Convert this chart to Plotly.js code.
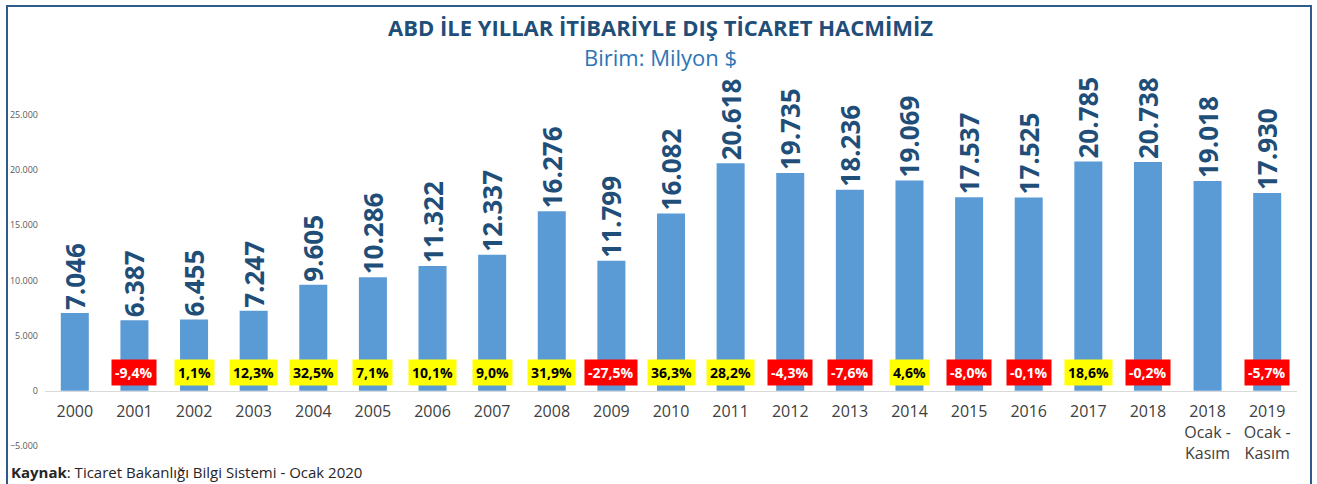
<!DOCTYPE html>
<html>
<head>
<meta charset="utf-8">
<script src="https://cdn.plot.ly/plotly-3.0.1.min.js"></script>
<style>
  html, body { margin: 0; padding: 0; background: #fff; }
  #wrap { position: relative; width: 1317px; height: 484px; overflow: hidden; }
  #chart { width: 1317px; height: 484px; }
  #frame { position: absolute; left: 6px; top: 5px; width: 1302px; height: 520px;
           border: 2px solid #2F5B8A; pointer-events: none; }
</style>
</head>
<body>
<div id="wrap">
  <div id="chart"></div>
  <div id="frame"></div>
</div>
<script>
// ---- data ----
const categories = ["2000","2001","2002","2003","2004","2005","2006","2007","2008","2009",
  "2010","2011","2012","2013","2014","2015","2016","2017","2018",
  "2018<br>Ocak -<br>Kasım","2019<br>Ocak -<br>Kasım"];
const tradeVolume = [7046, 6387, 6455, 7247, 9605, 10286, 11322, 12337, 16276, 11799,
  16082, 20618, 19735, 18236, 19069, 17537, 17525, 20785, 20738, 19018, 17930];
const changePct = [null, -9.4, 1.1, 12.3, 32.5, 7.1, 10.1, 9.0, 31.9, -27.5,
  36.3, 28.2, -4.3, -7.6, 4.6, -8.0, -0.1, 18.6, -0.2, null, -5.7];
const yTickValues = [-5000, 0, 5000, 10000, 15000, 20000, 25000];

// ---- layout helpers ----
const W = 1317, H = 484;
const M = { l: 45, r: 20, t: 115, b: 38 };
const yRange = [-5000, 25000];
const pw = W - M.l - M.r, ph = H - M.t - M.b;
const px2x = px => (px - M.l) / pw;
const py2y = py => (H - M.b - py) / ph;
const zeroPos = (0 - yRange[0]) / (yRange[1] - yRange[0]);

const FONT = "Open Sans, Noto Sans, sans-serif";

const bars = {
  type: "bar",
  x: categories,
  y: tradeVolume,
  marker: { color: "#5B9BD5" },
  texttemplate: "%{y:,d}",
  textposition: "outside",
  textangle: -90,
  constraintext: "none",
  cliponaxis: false,
  textfont: { family: FONT, size: 26, color: "#1F4E79", weight: "bold" },
  hoverinfo: "x+y"
};

const annotations = [];
changePct.forEach((v, i) => {
  if (v === null) return;
  const neg = v < 0;
  annotations.push({
    x: i, xref: "x",
    y: py2y(386), yref: "paper",
    yanchor: "bottom", xanchor: "center",
    text: v.toFixed(1).replace(".", ",") + "%",
    showarrow: false,
    bgcolor: neg ? "#FF0000" : "#FFFF00",
    borderpad: 3,
    font: { family: FONT, size: 14, weight: "bold", color: neg ? "#FFFFFF" : "#000000" }
  });
});

annotations.push({
  xref: "paper", yref: "paper", x: px2x(660), y: py2y(27),
  text: "ABD İLE YILLAR İTİBARİYLE DIŞ TİCARET HACMİMİZ",
  showarrow: false, xanchor: "center", yanchor: "middle",
  font: { family: FONT, size: 22, weight: "bold", color: "#1F4E79" }
});
annotations.push({
  xref: "paper", yref: "paper", x: px2x(660), y: py2y(57),
  text: "Birim: Milyon $",
  showarrow: false, xanchor: "center", yanchor: "middle",
  font: { family: FONT, size: 22, color: "#2E75B6" }
});
annotations.push({
  xref: "paper", yref: "paper", x: px2x(9), y: py2y(472),
  text: "<b>Kaynak</b>: Ticaret Bakanlığı Bilgi Sistemi - Ocak 2020",
  showarrow: false, xanchor: "left", yanchor: "middle",
  font: { family: FONT, size: 15, color: "#262626" }
});

const layout = {
  width: W, height: H,
  margin: M,
  paper_bgcolor: "#FFFFFF",
  plot_bgcolor: "#FFFFFF",
  separators: ",.",
  showlegend: false,
  bargap: 0.53,
  xaxis: {
    type: "category",
    range: [-0.5, categories.length - 0.5],
    anchor: "free",
    position: zeroPos,
    showline: true, linecolor: "#D9D9D9", linewidth: 1,
    showgrid: false, zeroline: false,
    ticks: "",
    ticklabelstandoff: 6,
    tickfont: { family: FONT, size: 16, color: "#404040" },
    fixedrange: true
  },
  yaxis: {
    range: yRange,
    tickvals: yTickValues,
    tickformat: ",d",
    showgrid: false, zeroline: false, showline: false,
    ticks: "",
    ticklabelstandoff: 6,
    tickfont: { family: FONT, size: 9, color: "#595959" },
    fixedrange: true
  },
  annotations: annotations
};

Plotly.newPlot("chart", [bars], layout, { displayModeBar: false, staticPlot: true });
</script>
</body>
</html>
